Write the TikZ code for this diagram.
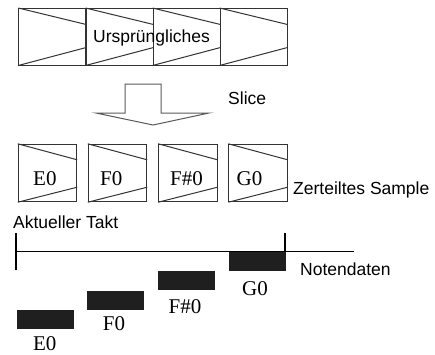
\documentclass[tikz,border=0pt]{standalone}
\usepackage{fontspec}
\setmainfont{Liberation Serif}
\setsansfont{Liberation Sans}
\usepackage{tikz}

\tikzset{
  slab/.style={draw=black!80, line width=1pt, minimum width=67pt, minimum height=56.5pt, inner sep=0pt},
  piece/.style={draw=black!80, line width=1pt, minimum width=58.4pt, minimum height=57.4pt, inner sep=0pt},
  notebar/.style={fill=black!88, minimum width=57pt, minimum height=18.6pt, inner sep=0pt},
  sans/.style={font=\fontsize{17.5}{20}\selectfont\sffamily, inner sep=0pt},
  serif/.style={font=\fontsize{21}{24}\selectfont, inner sep=0pt},
}

\begin{document}
\begin{tikzpicture}[x=1pt, y=-1pt]
    \useasboundingbox (0,0) rectangle (435,354);

    % original sample
    \node[slab] (u1) at (52.25,36.75) {};
    \node[slab] (u2) at (119.5,36.75) {};
    \node[slab] (u3) at (186.5,36.75) {};
    \node[slab] (u4) at (253.5,36.75) {};
    \foreach \n in {u1,u2,u3,u4} {
        \draw[black!80, line width=1pt] (\n.north west) -- ([yshift=-16.5pt]\n.north east);
        \draw[black!80, line width=1pt] (\n.south west) -- ([yshift=18pt]\n.south east);
    }
    \node[sans, anchor=base west] (orig) at (93,42.7) {Ursprüngliches};

    % slice arrow
    \draw[black!65, line width=1pt] (96,113) -- (125,113) -- (125,84) -- (161,84)
        -- (161,113) -- (209,113) -- (153,125) -- cycle;
    \node[sans, anchor=base west] (slice) at (228,104) {Slice};

    % sliced pieces
    \node[piece] (s1) at (47.5,173) {};
    \node[piece] (s2) at (117.5,173) {};
    \node[piece] (s3) at (187.85,173) {};
    \node[piece] (s4) at (258,173) {};
    \foreach \n in {s1,s2,s3,s4} {
        \draw[black!80, line width=1pt] (\n.north west) -- ([yshift=-16pt]\n.north east);
        \draw[black!80, line width=1pt] (\n.south west) -- ([yshift=15pt]\n.south east);
    }
    \node[serif, anchor=base west] (s1l) at (33,185) {E0};
    \node[serif, anchor=base west] (s2l) at (100,185) {F0};
    \node[serif, anchor=base west] (s3l) at (170,185) {F\#0};
    \node[serif, anchor=base west] (s4l) at (236.5,185) {G0};
    \node[sans, anchor=base west] (split) at (293,194) {Zerteiltes Sample};

    % bar and note data
    \node[sans, anchor=base west] (bar) at (13,228) {Aktueller Takt};
    \draw[line width=1.4pt] (16,251.7) -- (354,251.7);
    \draw[line width=1.4pt] (16,233) -- (16,270);
    \draw[line width=1.4pt] (285,233) -- (285,252);
    \node[sans, anchor=base west] (notes) at (300,275) {Notendaten};

    \node[notebar] (n1) at (45.3,319.2) {};
    \node[notebar] (n2) at (115.7,300.2) {};
    \node[notebar] (n3) at (186.7,280.2) {};
    \node[notebar] (n4) at (257.7,261.2) {};
    \node[serif, anchor=base] (n1l) at (44.7,350) {E0};
    \node[serif, anchor=base] (n2l) at (114,330) {F0};
    \node[serif, anchor=base] (n3l) at (185,313.3) {F\#0};
    \node[serif, anchor=base] (n4l) at (255,295) {G0};
\end{tikzpicture}
\end{document}
